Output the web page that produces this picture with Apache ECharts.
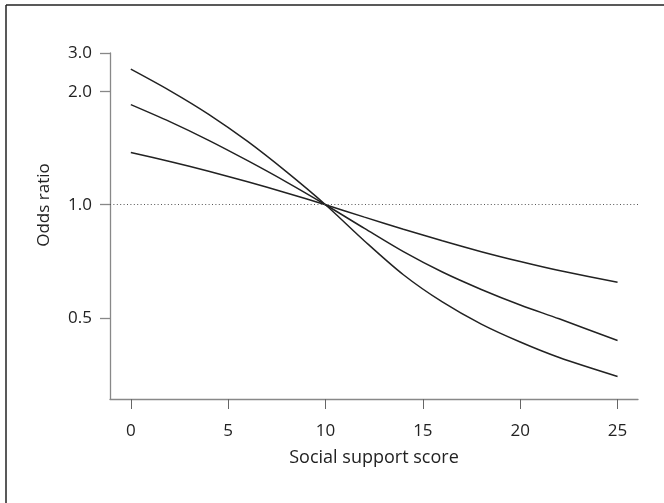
<!DOCTYPE html>
<html>
<head>
<meta charset="utf-8">
<script src="https://cdn.jsdelivr.net/npm/echarts@6/dist/echarts.min.js"></script>
<style>
  html, body { margin: 0; padding: 0; background: #fff; }
  #chart { width: 664px; height: 503px; }
</style>
</head>
<body>
<div id="chart"></div>
<script>
// Social support score (x)
const scores = [0, 2, 4, 6, 8, 10, 12, 14, 16, 18, 20, 22, 25];
// Odds ratios (three curves)
const orSteep  = [2.297, 2.014, 1.741, 1.474, 1.223, 1.0, 0.801, 0.651, 0.551, 0.481, 0.431, 0.392, 0.349];
const orMiddle = [1.847, 1.664, 1.484, 1.310, 1.149, 1.0, 0.865, 0.750, 0.662, 0.595, 0.541, 0.497, 0.435];
const orFlat   = [1.378, 1.304, 1.228, 1.151, 1.075, 1.0, 0.927, 0.861, 0.802, 0.750, 0.706, 0.668, 0.622];
// Axis ticks
const xTicks = [0, 5, 10, 15, 20, 25];
const yTickValues = [0.5, 1.0, 2.0, 2.535];
const yTickLabels = ['0.5', '1.0', '2.0', '3.0'];
const referenceOR = 1.0;

const FONT = 'Open Sans';
const pairs = arr => scores.map((x, i) => [x, arr[i]]);
const lineStyle = { color: '#222', width: 1.5 };

const chart = echarts.init(document.getElementById('chart'));
chart.setOption({
  animation: false,
  backgroundColor: '#fff',
  textStyle: { fontFamily: FONT },
  grid: { left: 110, top: 53, right: 26, bottom: 104 },
  graphic: [
    { type: 'line', shape: { x1: 6, y1: 5, x2: 664, y2: 5 }, style: { stroke: '#222', lineWidth: 1.5 } },
    { type: 'line', shape: { x1: 6, y1: 5, x2: 6, y2: 503 }, style: { stroke: '#222', lineWidth: 1.5 } }
  ],
  xAxis: {
    type: 'value', min: -1.07, max: 26.05,
    name: 'Social support score', nameLocation: 'middle', nameGap: 50,
    nameTextStyle: { fontFamily: FONT, fontSize: 18, color: '#222' },
    axisLine: { show: true, onZero: false, lineStyle: { color: '#888', width: 1.3 } },
    axisTick: { show: true, length: 10, customValues: xTicks, lineStyle: { color: '#666', width: 1 } },
    axisLabel: { customValues: xTicks, margin: 24, fontFamily: FONT, fontSize: 17, color: '#222' },
    splitLine: { show: false }
  },
  yAxis: {
    type: 'log', logBase: 2, min: 0.304, max: 2.535,
    name: 'Odds ratio', nameLocation: 'middle', nameGap: 57, nameRotate: 90,
    nameTextStyle: { fontFamily: FONT, fontSize: 17, color: '#222', padding: [0, 0, 0, 42] },
    axisLine: { show: true, onZero: false, lineStyle: { color: '#888', width: 1.3 } },
    axisTick: { show: true, length: 10, customValues: yTickValues, lineStyle: { color: '#888', width: 1.3 } },
    axisLabel: {
      customValues: yTickValues, margin: 18, fontFamily: FONT, fontSize: 17, color: '#222',
      formatter: v => {
        let best = 0;
        yTickValues.forEach((t, i) => { if (Math.abs(t - v) < Math.abs(yTickValues[best] - v)) best = i; });
        return yTickLabels[best];
      }
    },
    splitLine: { show: false }
  },
  series: [
    {
      type: 'line', data: pairs(orSteep), smooth: 0.3, symbol: 'none', lineStyle,
      markLine: {
        silent: true, symbol: 'none', label: { show: false },
        lineStyle: { color: '#555', width: 1, type: [1, 2.4] },
        data: [{ yAxis: referenceOR }]
      }
    },
    { type: 'line', data: pairs(orMiddle), smooth: 0.3, symbol: 'none', lineStyle },
    { type: 'line', data: pairs(orFlat), smooth: 0.3, symbol: 'none', lineStyle }
  ]
});
</script>
</body>
</html>
